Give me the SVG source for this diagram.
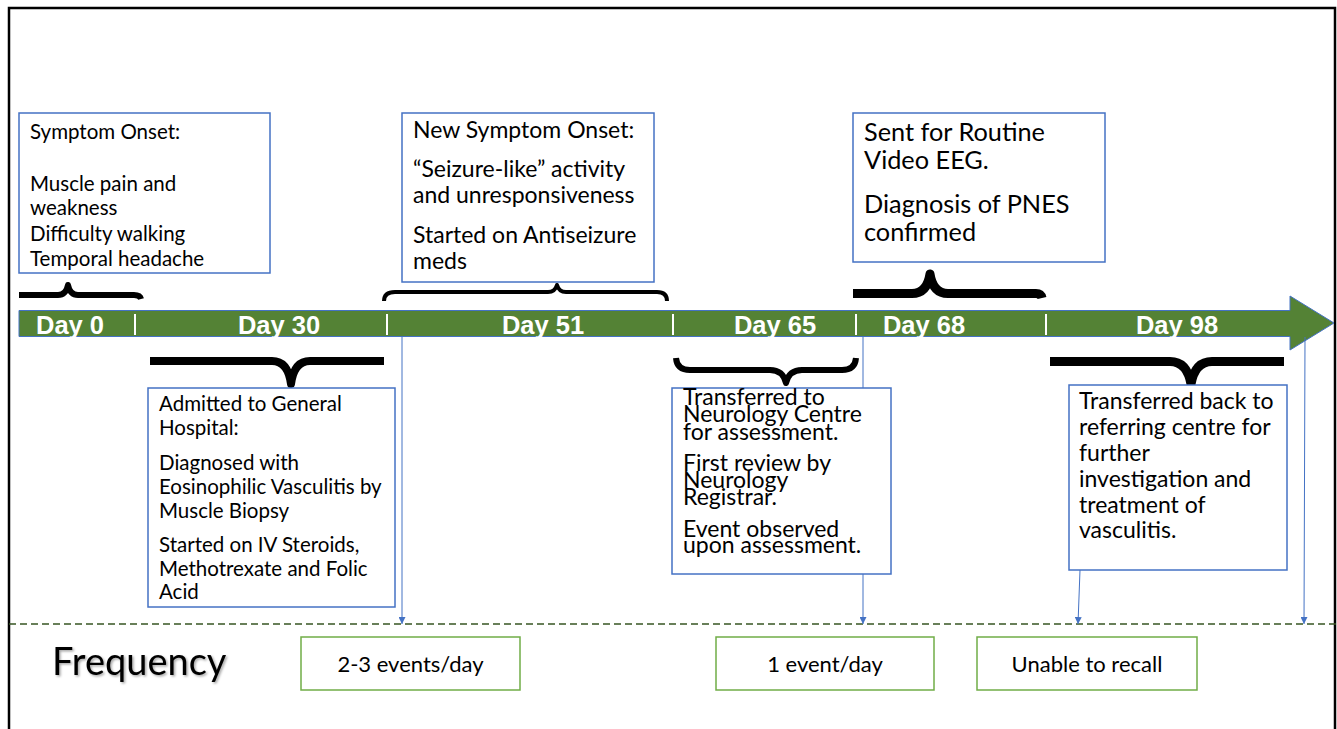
<svg xmlns="http://www.w3.org/2000/svg" width="1337" height="729" viewBox="0 0 1337 729">
<style>
.box{fill:#fff;stroke:#4472C4;stroke-width:1.5}
.fbox{fill:#fff;stroke:#70AD47;stroke-width:1.5}
.t{font-family:Lato,"Noto Sans",sans-serif;fill:#000}
.day{font-family:"Liberation Sans",Arial,sans-serif;font-weight:bold;font-size:25.5px;fill:#fff;text-anchor:middle}
.tick{stroke:#fff;stroke-width:2}
.brace{fill:none;stroke:#000;stroke-linecap:butt;stroke-linejoin:round}
.conn{fill:none;stroke:#4472C4;stroke-width:1}
.ft{font-family:Lato,"Noto Sans",sans-serif;font-size:22px;fill:#000;text-anchor:middle}
</style>
<defs>
<marker id="ah" viewBox="0 0 10 10" refX="10" refY="5" markerWidth="7" markerHeight="7" markerUnits="userSpaceOnUse" orient="auto">
<path d="M0,0 L10,5 L0,10 Z" fill="#4472C4"/>
</marker>
<filter id="sh" x="-5%" y="-20%" width="110%" height="140%">
<feDropShadow dx="1.5" dy="1.5" stdDeviation="1" flood-color="#000" flood-opacity="0.35"/>
</filter>
</defs>
<rect x="9" y="8" width="1326" height="740" fill="#fff" stroke="#000" stroke-width="2.5"/>

<g id="timeline">
<path d="M19,310.5 L1290,310.5 L1290,296 L1334,323 L1290,350 L1290,336.5 L19,336.5 Z" fill="#548235" stroke="#4472C4" stroke-width="1"/>
<line class="tick" x1="135" y1="314" x2="135" y2="335"/>
<line class="tick" x1="387" y1="314" x2="387" y2="335"/>
<line class="tick" x1="673" y1="314" x2="673" y2="335"/>
<line class="tick" x1="856" y1="314" x2="856" y2="335"/>
<line class="tick" x1="1046" y1="314" x2="1046" y2="335"/>
<text class="day" x="70" y="334">Day 0</text>
<text class="day" x="279" y="334">Day 30</text>
<text class="day" x="543" y="334">Day 51</text>
<text class="day" x="775" y="334">Day 65</text>
<text class="day" x="924" y="334">Day 68</text>
<text class="day" x="1177" y="334">Day 98</text>
</g>

<g id="braces">
<path class="brace" stroke-width="6" d="M19,295 L58,295 Q66,295 68,285 Q70,295 78,295 L134,295 Q140,295 141,299"/>
<path class="brace" stroke-width="4" d="M384,301 Q384,292 395,292 L548,292 Q555,292 557,285 Q559,292 566,292 L657,292 Q667,292 667,301"/>
<path class="brace" stroke-width="9" d="M853,293.5 L912,293.5 Q927,293.5 930,274 Q933,293.5 948,293.5 L1036,293.5 Q1041,293.5 1042,298"/>
<path class="brace" stroke-width="8" d="M150,361 L272,361 Q288,361 291,384 Q294,361 310,361 L384,361"/>
<path class="brace" stroke-width="6" d="M676,358 Q677,370 690,370 L770,370 Q783,370 786,383 Q789,370 802,370 L842,370 Q855,370 856,358"/>
<path class="brace" stroke-width="9" d="M1050,361.5 L1170,361.5 Q1187,361.5 1191,384 Q1195,361.5 1212,361.5 L1284,361.5"/>
</g>

<g id="connectors">
<line x1="9" y1="624" x2="1337" y2="624" stroke="#375623" stroke-width="1.5" stroke-dasharray="7 4"/>
<path class="conn" d="M402,337 L402,624" marker-end="url(#ah)"/>
<path class="conn" d="M863,337 L863,624" marker-end="url(#ah)"/>
<path class="conn" d="M1080,570 L1078,624" marker-end="url(#ah)"/>
<path class="conn" d="M1305,337 L1304,624" marker-end="url(#ah)"/>
</g>

<g id="symptom-onset">
<rect class="box" x="19" y="113" width="251" height="160"/>
<text class="t" font-size="20.5">
<tspan x="30" y="139">Symptom Onset:</tspan>
<tspan x="30" y="191">Muscle pain and</tspan>
<tspan x="30" y="215">weakness</tspan>
<tspan x="30" y="241">Difficulty walking</tspan>
<tspan x="30" y="266">Temporal headache</tspan>
</text>
</g>

<g id="new-symptom-onset">
<rect class="box" x="402" y="113" width="252" height="169"/>
<text class="t" font-size="23">
<tspan x="413" y="138">New Symptom Onset:</tspan>
<tspan x="413" y="177">“Seizure-like” activity</tspan>
<tspan x="413" y="203">and unresponsiveness</tspan>
<tspan x="413" y="243">Started on Antiseizure</tspan>
<tspan x="413" y="269">meds</tspan>
</text>
</g>

<g id="video-eeg">
<rect class="box" x="853" y="113" width="252" height="149"/>
<text class="t" font-size="25.3">
<tspan x="864" y="141">Sent for Routine</tspan>
<tspan x="864" y="169">Video EEG.</tspan>
<tspan x="864" y="213">Diagnosis of PNES</tspan>
<tspan x="864" y="241">confirmed</tspan>
</text>
</g>

<g id="admitted">
<rect class="box" x="148" y="388" width="247" height="219"/>
<text class="t" font-size="20.5">
<tspan x="159" y="411">Admitted to General</tspan>
<tspan x="159" y="435">Hospital:</tspan>
<tspan x="159" y="470">Diagnosed with</tspan>
<tspan x="159" y="494">Eosinophilic Vasculitis by</tspan>
<tspan x="159" y="518">Muscle Biopsy</tspan>
<tspan x="159" y="552">Started on IV Steroids,</tspan>
<tspan x="159" y="576">Methotrexate and Folic</tspan>
<tspan x="159" y="599">Acid</tspan>
</text>
</g>

<g id="neurology-centre">
<rect class="box" x="672" y="388" width="219" height="186"/>
<text class="t" font-size="23">
<tspan x="683" y="405">Transferred to</tspan>
<tspan x="683" y="422">Neurology Centre</tspan>
<tspan x="683" y="440">for assessment.</tspan>
<tspan x="683" y="471">First review by</tspan>
<tspan x="683" y="488">Neurology</tspan>
<tspan x="683" y="505">Registrar.</tspan>
<tspan x="683" y="537">Event observed</tspan>
<tspan x="683" y="553">upon assessment.</tspan>
</text>
</g>

<g id="transferred-back">
<rect class="box" x="1069" y="385" width="218" height="185"/>
<text class="t" font-size="23">
<tspan x="1079" y="409">Transferred back to</tspan>
<tspan x="1079" y="435">referring centre for</tspan>
<tspan x="1079" y="461">further</tspan>
<tspan x="1079" y="487">investigation and</tspan>
<tspan x="1079" y="513">treatment of</tspan>
<tspan x="1079" y="538">vasculitis.</tspan>
</text>
</g>

<g id="frequency-label">
<text class="t" font-size="38" x="52" y="675" filter="url(#sh)">Frequency</text>
</g>

<g id="freq-1">
<rect class="fbox" x="301" y="637" width="219" height="53"/>
<text class="ft" x="410.5" y="672">2-3 events/day</text>
</g>
<g id="freq-2">
<rect class="fbox" x="716" y="637" width="218" height="53"/>
<text class="ft" x="825" y="672">1 event/day</text>
</g>
<g id="freq-3">
<rect class="fbox" x="977" y="637" width="220" height="53"/>
<text class="ft" x="1087" y="672">Unable to recall</text>
</g>
</svg>
